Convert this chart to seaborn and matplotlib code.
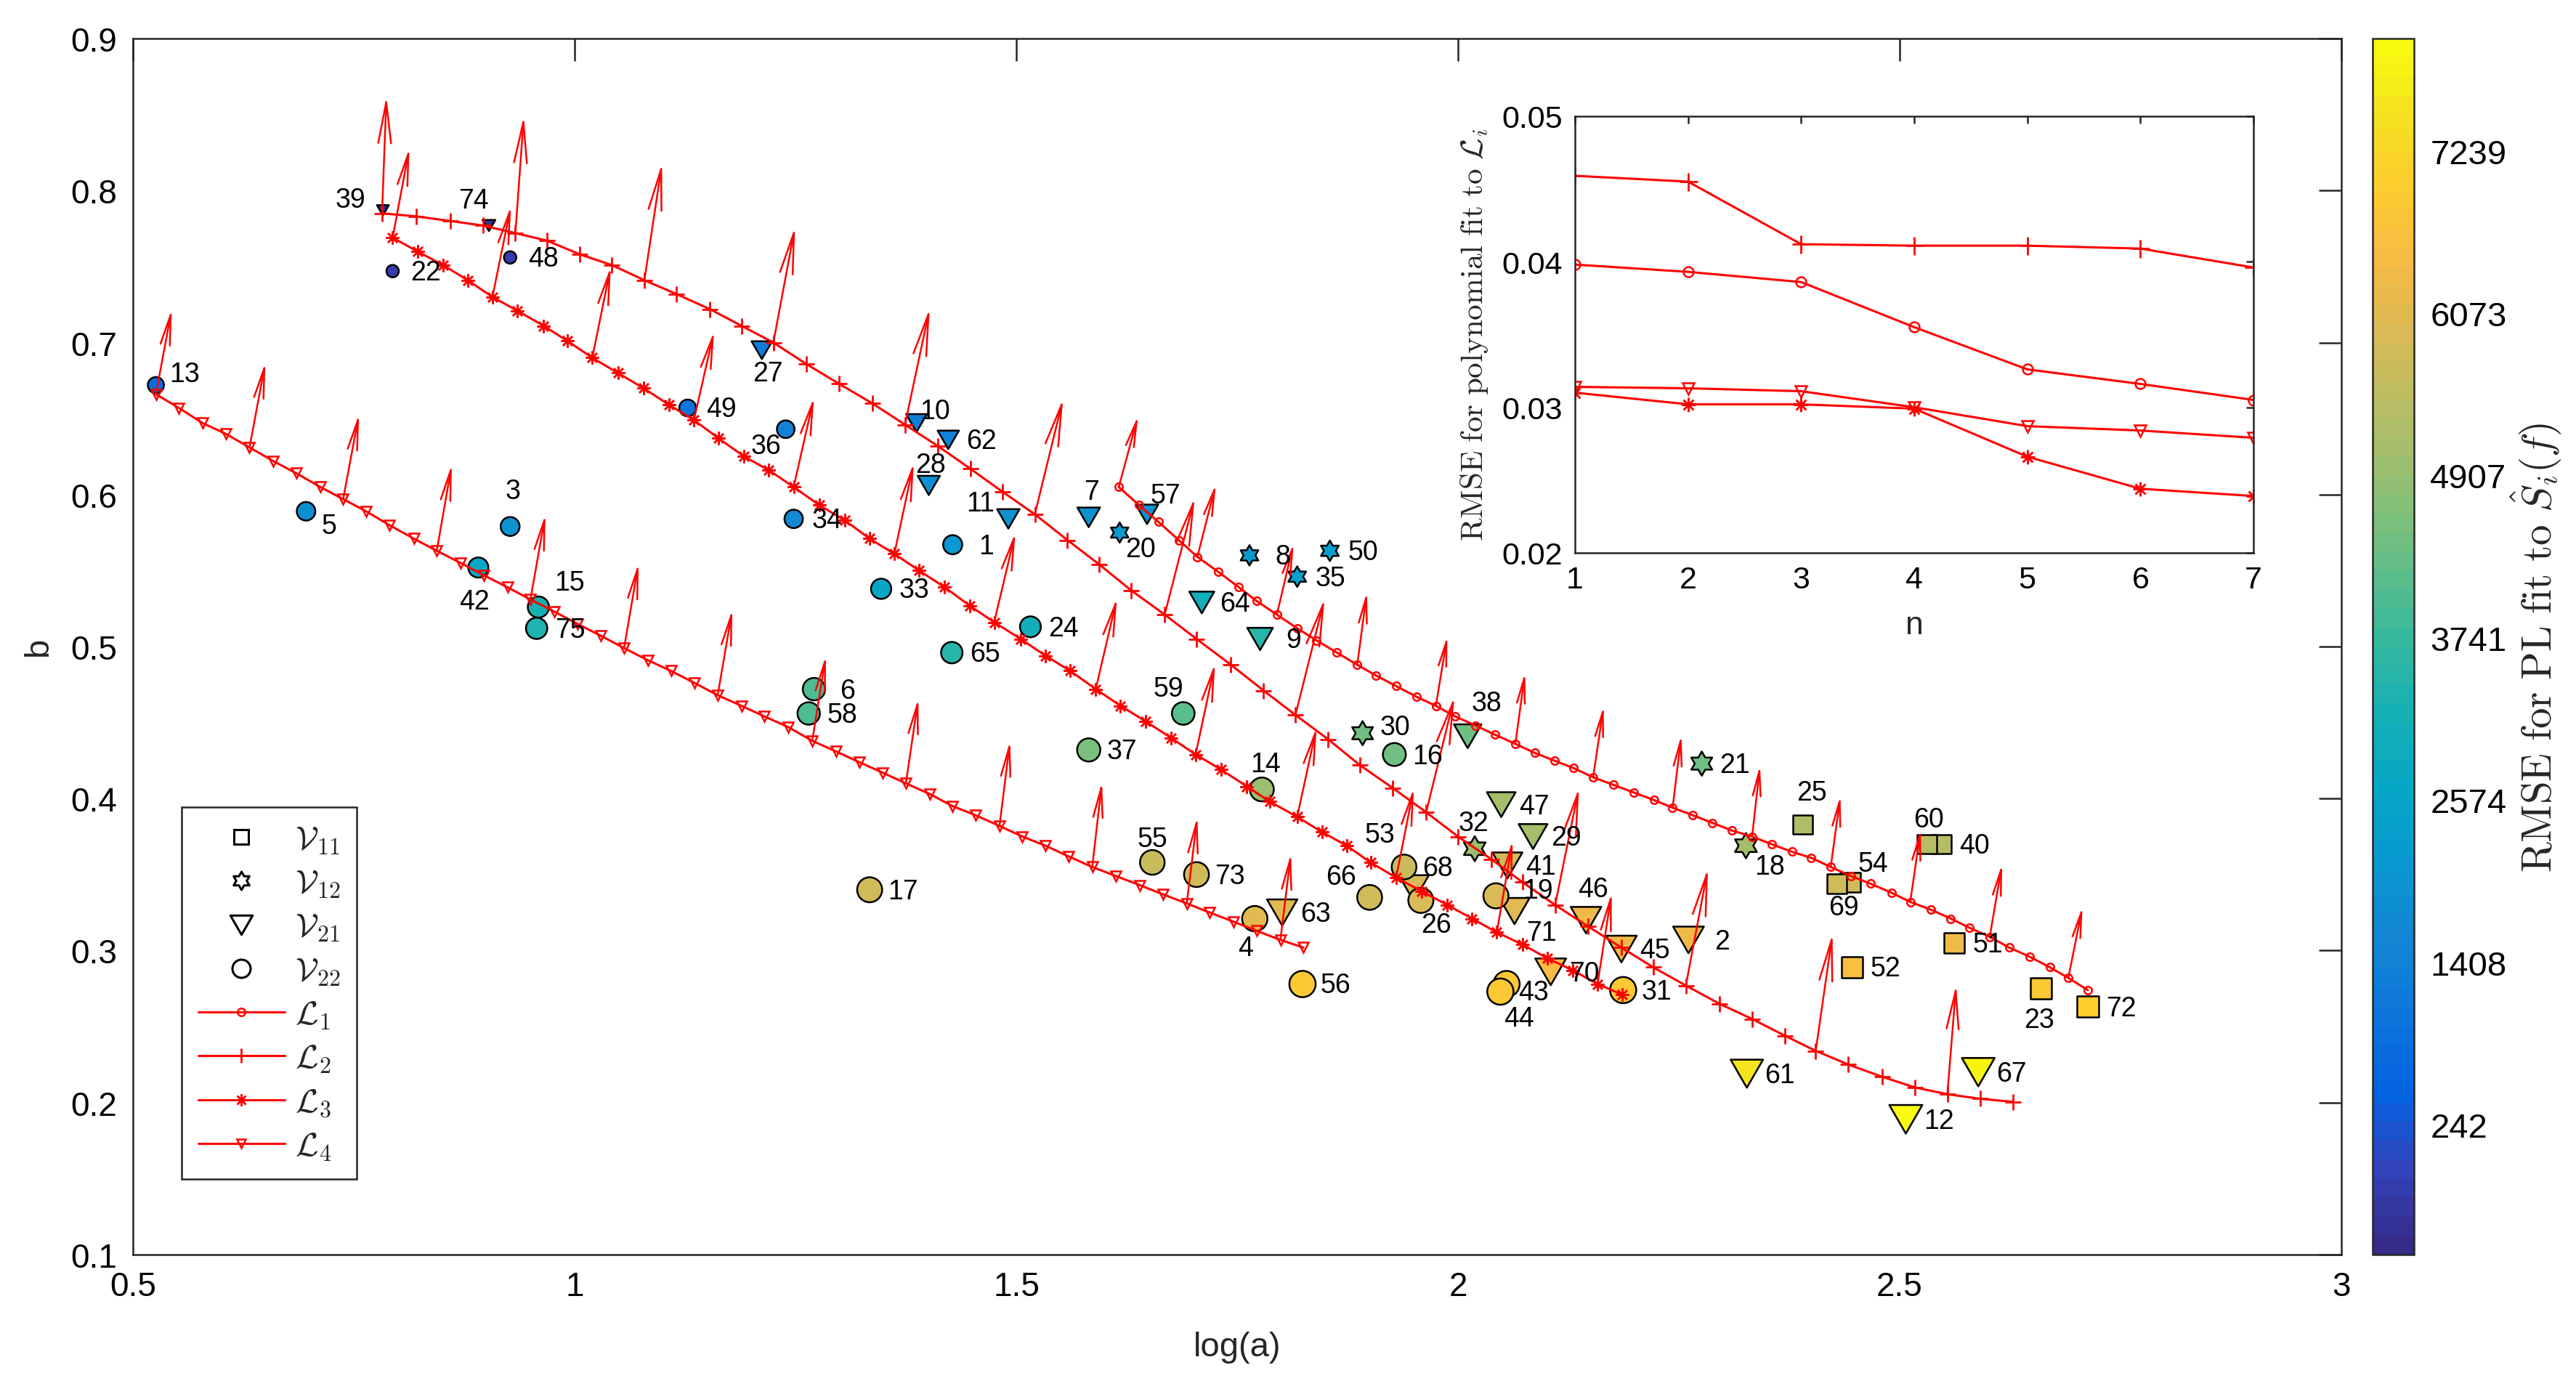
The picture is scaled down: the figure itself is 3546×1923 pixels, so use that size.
import numpy as np
import pandas as pd
import matplotlib
matplotlib.use("Agg")
import matplotlib.pyplot as plt
from matplotlib.colors import LinearSegmentedColormap, Normalize
from matplotlib.cm import ScalarMappable
from matplotlib.lines import Line2D
from matplotlib.patches import FancyArrowPatch
from matplotlib.path import Path
import seaborn as sns

# ---------------- data ----------------
point_id = list(range(1, 76))
point_group = ['22', '21', '22', '22', '22', '22', '21', '12', '21', '21',
               '21', '21', '22', '22', '22', '22', '22', '12', '22', '12',
               '12', '22', '11', '22', '11', '22', '21', '21', '21', '12',
               '22', '12', '22', '22', '12', '22', '22', '21', '21', '11',
               '21', '22', '22', '22', '21', '21', '21', '22', '22', '12',
               '11', '11', '21', '11', '22', '22', '21', '22', '22', '11',
               '21', '21', '21', '21', '22', '22', '21', '22', '11', '21',
               '21', '11', '22', '21', '22']
point_loga = [1.428, 2.261, 0.927, 1.770, 0.696, 1.271, 1.582, 1.764, 1.776, 1.387,
              1.491, 2.507, 0.526, 1.778, 0.959, 1.928, 1.334, 2.326, 2.043, 1.617,
              2.276, 0.794, 2.660, 1.516, 2.390, 1.958, 1.212, 1.401, 2.085, 1.892,
              2.187, 2.019, 1.347, 1.248, 1.818, 1.239, 1.582, 2.011, 0.783, 2.547,
              2.056, 0.891, 2.055, 2.048, 2.185, 2.145, 2.049, 0.927, 1.128, 1.855,
              2.562, 2.446, 1.950, 2.444, 1.654, 1.824, 1.648, 1.265, 1.689, 2.531,
              2.327, 1.423, 1.801, 1.710, 1.427, 1.900, 2.589, 1.939, 2.429, 2.105,
              2.064, 2.713, 1.704, 0.903, 0.957]
point_b = [0.567, 0.307, 0.579, 0.321, 0.589, 0.472, 0.585, 0.560, 0.505, 0.647,
           0.584, 0.189, 0.672, 0.406, 0.526, 0.429, 0.340, 0.369, 0.336, 0.575,
           0.423, 0.747, 0.275, 0.513, 0.383, 0.333, 0.695, 0.606, 0.375, 0.443,
           0.274, 0.367, 0.538, 0.584, 0.546, 0.643, 0.432, 0.441, 0.787, 0.370,
           0.356, 0.552, 0.278, 0.273, 0.301, 0.320, 0.396, 0.756, 0.657, 0.563,
           0.305, 0.289, 0.341, 0.345, 0.358, 0.278, 0.587, 0.456, 0.456, 0.370,
           0.219, 0.636, 0.325, 0.529, 0.496, 0.335, 0.220, 0.355, 0.344, 0.286,
           0.326, 0.263, 0.350, 0.777, 0.512]
point_rmse = [2100, 6390, 2020, 6120, 1840, 4030, 2020, 2280, 3420, 1320,
              1930, 7960, 800, 5030, 3240, 4380, 5860, 5160, 5950, 2190,
              4460, -250, 6910, 3070, 5250, 5950, 1230, 1840, 5160, 4380,
              6820, 4990, 2720, 1760, 2370, 1410, 4550, 4380, -600, 5420,
              5860, 2630, 6820, 6870, 6390, 6300, 5080, -250, 1060, 2370,
              6300, 6650, 5990, 5860, 5600, 6910, 1930, 4030, 4200, 5420,
              7520, 1490, 6120, 3070, 3420, 5770, 7780, 5690, 5770, 6470,
              6040, 7080, 5770, -520, 3330]

# curves L1..L4
l1_x = [1.616, 1.639, 1.661, 1.684, 1.705, 1.729, 1.752, 1.772, 1.795, 1.818,
        1.840, 1.863, 1.886, 1.907, 1.930, 1.953, 1.975, 1.997, 2.020, 2.042,
        2.065, 2.087, 2.109, 2.131, 2.153, 2.176, 2.199, 2.222, 2.243, 2.266,
        2.288, 2.310, 2.333, 2.355, 2.378, 2.400, 2.422, 2.445, 2.467, 2.491,
        2.512, 2.535, 2.558, 2.579, 2.602, 2.624, 2.647, 2.670, 2.691, 2.713]
l1_y = [0.605, 0.593, 0.582, 0.570, 0.559, 0.549, 0.539, 0.530, 0.521, 0.512,
        0.504, 0.496, 0.488, 0.481, 0.474, 0.467, 0.461, 0.454, 0.448, 0.442,
        0.436, 0.430, 0.425, 0.420, 0.414, 0.409, 0.404, 0.399, 0.394, 0.389,
        0.384, 0.379, 0.375, 0.370, 0.365, 0.361, 0.355, 0.349, 0.344, 0.338,
        0.332, 0.327, 0.321, 0.315, 0.309, 0.302, 0.296, 0.289, 0.282, 0.274]
l2_x = [0.782, 0.821, 0.859, 0.896, 0.933, 0.969, 1.006, 1.042, 1.079, 1.115,
        1.153, 1.189, 1.225, 1.262, 1.299, 1.337, 1.374, 1.411, 1.448, 1.484,
        1.521, 1.558, 1.594, 1.630, 1.668, 1.704, 1.743, 1.780, 1.816, 1.853,
        1.889, 1.926, 1.964, 2.000, 2.038, 2.073, 2.110, 2.147, 2.185, 2.221,
        2.258, 2.296, 2.333, 2.370, 2.405, 2.442, 2.480, 2.517, 2.554, 2.591,
        2.628]
l2_y = [0.785, 0.783, 0.780, 0.777, 0.772, 0.767, 0.758, 0.751, 0.741, 0.732,
        0.722, 0.711, 0.700, 0.686, 0.673, 0.660, 0.646, 0.632, 0.617, 0.602,
        0.587, 0.570, 0.554, 0.537, 0.521, 0.505, 0.488, 0.471, 0.455, 0.439,
        0.422, 0.407, 0.391, 0.375, 0.360, 0.345, 0.330, 0.316, 0.302, 0.289,
        0.277, 0.265, 0.255, 0.244, 0.234, 0.225, 0.217, 0.210, 0.2055, 0.2025,
        0.2005]
l3_x = [0.794, 0.822, 0.851, 0.879, 0.907, 0.935, 0.965, 0.992, 1.020, 1.049,
        1.078, 1.107, 1.135, 1.163, 1.192, 1.220, 1.248, 1.277, 1.306, 1.334,
        1.362, 1.390, 1.419, 1.447, 1.475, 1.505, 1.533, 1.561, 1.590, 1.618,
        1.646, 1.675, 1.703, 1.732, 1.761, 1.787, 1.818, 1.846, 1.874, 1.901,
        1.930, 1.959, 1.988, 2.016, 2.044, 2.073, 2.101, 2.130, 2.158, 2.186]
l3_y = [0.769, 0.760, 0.751, 0.741, 0.730, 0.721, 0.711, 0.701, 0.690, 0.680,
        0.670, 0.659, 0.649, 0.637, 0.625, 0.616, 0.605, 0.593, 0.583, 0.571,
        0.561, 0.550, 0.539, 0.527, 0.516, 0.505, 0.494, 0.484, 0.472, 0.461,
        0.451, 0.440, 0.429, 0.419, 0.408, 0.398, 0.388, 0.378, 0.369, 0.358,
        0.348, 0.339, 0.330, 0.321, 0.312, 0.304, 0.295, 0.287, 0.278, 0.271]
l4_x = [0.526, 0.552, 0.579, 0.605, 0.632, 0.659, 0.685, 0.712, 0.738, 0.764,
        0.790, 0.818, 0.844, 0.871, 0.897, 0.924, 0.950, 0.977, 1.003, 1.030,
        1.056, 1.083, 1.109, 1.136, 1.162, 1.189, 1.215, 1.242, 1.269, 1.296,
        1.322, 1.349, 1.375, 1.402, 1.428, 1.454, 1.481, 1.507, 1.533, 1.559,
        1.586, 1.613, 1.640, 1.666, 1.693, 1.719, 1.746, 1.772, 1.799, 1.825]
l4_y = [0.666, 0.657, 0.647, 0.640, 0.631, 0.622, 0.614, 0.605, 0.597, 0.589,
        0.580, 0.571, 0.563, 0.555, 0.547, 0.539, 0.531, 0.523, 0.515, 0.507,
        0.499, 0.491, 0.484, 0.476, 0.468, 0.461, 0.454, 0.447, 0.438, 0.431,
        0.424, 0.417, 0.410, 0.403, 0.395, 0.389, 0.382, 0.375, 0.369, 0.362,
        0.355, 0.349, 0.343, 0.337, 0.331, 0.325, 0.319, 0.313, 0.307, 0.302]

# arrows, drawn from every 4th marker of each curve
l1_u = [0.022, 0.021, 0.019, 0.011, 0.013, 0.011, 0.012, 0.010, 0.009, 0.011, 0.012, 0.014, 0.016]
l1_v = [0.047, 0.048, 0.047, 0.048, 0.046, 0.047, 0.047, 0.048, 0.047, 0.047, 0.048, 0.048, 0.047]
l2_u = [0.005, 0.0095, 0.020, 0.0245, 0.028, 0.032, 0.034, 0.033, 0.032, 0.027, 0.025, 0.019, 0.010]
l2_v = [0.077, 0.077, 0.077, 0.076, 0.0765, 0.076, 0.077, 0.0765, 0.076, 0.077, 0.077, 0.077, 0.072]
l3_u = [0.019, 0.021, 0.021, 0.023, 0.023, 0.022, 0.024, 0.024, 0.022, 0.022, 0.020, 0.018, 0.016]
l3_v = [0.059, 0.060, 0.060, 0.0585, 0.059, 0.060, 0.059, 0.060, 0.060, 0.059, 0.059, 0.0606, 0.060]
l4_u = [0.018, 0.018, 0.018, 0.017, 0.017, 0.0165, 0.0166, 0.0155, 0.0142, 0.012, 0.011, 0.012, 0.012]
l4_v = [0.056, 0.056, 0.056, 0.057, 0.056, 0.056, 0.0565, 0.056, 0.056, 0.056, 0.056, 0.057, 0.057]

# inset: RMSE of polynomial fit vs order n
n_vals = [1, 2, 3, 4, 5, 6, 7]
fit_l1 = [0.0398, 0.0393, 0.0386, 0.0355, 0.0326, 0.0316, 0.0305]
fit_l2 = [0.0459, 0.0455, 0.0412, 0.0411, 0.0411, 0.0409, 0.0396]
fit_l3 = [0.0310, 0.0302, 0.0302, 0.0299, 0.0266, 0.0244, 0.0239]
fit_l4 = [0.0314, 0.0313, 0.0311, 0.0300, 0.0287, 0.0284, 0.0279]

x_ticks = [0.5, 1, 1.5, 2, 2.5, 3]
x_ticklabels = ['0.5', '1', '1.5', '2', '2.5', '3']
y_ticks = [0.1, 0.2, 0.3, 0.4, 0.5, 0.6, 0.7, 0.8, 0.9]
y_ticklabels = ['0.1', '0.2', '0.3', '0.4', '0.5', '0.6', '0.7', '0.8', '0.9']
cb_ticks = [242, 1408, 2574, 3741, 4907, 6073, 7239]
cb_min, cb_max = -690, 8045
inset_yticks = [0.02, 0.03, 0.04, 0.05]
inset_yticklabels = ['0.02', '0.03', '0.04', '0.05']

# ---------------- style ----------------
DPI = 200
sns.set_style('white')
plt.rcParams['font.family'] = ['Liberation Sans', 'DejaVu Sans']
plt.rcParams['mathtext.fontset'] = 'cm'
AX_COLOR = '#262626'

# parula (sampled)
parula_rows = [
    (0.2081, 0.1663, 0.5292), (0.1959, 0.2645, 0.7279), (0.0117, 0.3875, 0.8820),
    (0.0498, 0.4586, 0.8641), (0.0793, 0.5200, 0.8312), (0.0343, 0.5966, 0.8199),
    (0.0228, 0.6535, 0.7768), (0.0843, 0.6928, 0.7062), (0.2178, 0.7250, 0.6193),
    (0.3953, 0.7459, 0.5244), (0.5709, 0.7485, 0.4494), (0.7184, 0.7411, 0.3905),
    (0.8507, 0.7299, 0.3360), (0.9739, 0.7314, 0.2666), (0.9880, 0.8066, 0.1794),
    (0.9589, 0.8949, 0.1132), (0.9763, 0.9831, 0.0538)]
parula_pos = [0, 4, 8, 12, 16, 20, 24, 28, 32, 36, 40, 44, 48, 52, 56, 60, 63]
parula = LinearSegmentedColormap.from_list(
    'parula', [(p / 63, c) for p, c in zip(parula_pos, parula_rows)], N=64)
norm = Normalize(cb_min, cb_max)


def marker_path(verts):
    return Path(verts + [verts[0]], closed=True)


tri_down = marker_path([(-1, 0.866), (1, 0.866), (0, -0.866)])
hexagram = marker_path([((1.0 if k % 2 == 0 else 0.577) * np.cos(np.pi / 2 + k * np.pi / 6),
                         (1.0 if k % 2 == 0 else 0.577) * np.sin(np.pi / 2 + k * np.pi / 6))
                        for k in range(12)])
group_marker = {'11': 's', '12': hexagram, '21': tri_down, '22': 'o'}
group_scale = {'11': 0.8, '12': 1.05, '21': 1.2, '22': 1.0}

df = pd.DataFrame({'id': point_id, 'group': point_group, 'loga': point_loga,
                   'b': point_b, 'rmse': point_rmse})
t = ((df['rmse'] - cb_min) / (cb_max - cb_min)).clip(0, 1)
diam_pt = (11 + 27 * np.sqrt(t)) * 72 / DPI
df['area'] = (diam_pt * df['group'].map(group_scale)) ** 2
amin, amax = df['area'].min(), df['area'].max()

# ---------------- figure ----------------
fig = plt.figure(figsize=(3546 / DPI, 1924 / DPI), dpi=DPI)
ax = fig.add_axes([0.0516, 0.1019, 0.8573, 0.870])
ax.set_xlim(0.5, 3)
ax.set_ylim(0.1, 0.9)

for g, mk in group_marker.items():
    sub = df[df['group'] == g]
    sns.scatterplot(data=sub, x='loga', y='b', hue='rmse', hue_norm=norm, palette=parula,
                    size='area', sizes=(amin, amax), size_norm=(amin, amax),
                    marker=mk, edgecolor='black', linewidth=0.9, legend=False,
                    ax=ax, zorder=2)

line_specs = [
    (l1_x, l1_y, l1_u, l1_v, dict(marker='o', ms=3.8, mfc='none', mew=0.9)),
    (l2_x, l2_y, l2_u, l2_v, dict(marker='+', ms=8, mew=1.0)),
    (l3_x, l3_y, l3_u, l3_v, dict(marker=(8, 2, 0), ms=6.5, mew=0.9)),
    (l4_x, l4_y, l4_u, l4_v, dict(marker='v', ms=5, mfc='none', mew=0.9)),
]
for xs, ys, us, vs, mk in line_specs:
    sns.lineplot(x=xs, y=ys, sort=False, estimator=None, ax=ax, color='red',
                 lw=1.1, mec='red', zorder=3, **mk)

# quiver-like arrows with open heads
for xs, ys, us, vs, _ in line_specs:
    for k, (u, v) in enumerate(zip(us, vs)):
        x0, y0 = xs[4 * k], ys[4 * k]
        p0 = ax.transData.transform((x0, y0))
        p1 = ax.transData.transform((x0 + u, y0 + v))
        length_pt = np.hypot(*(p1 - p0)) * 72 / DPI
        style = '->,head_length=%.2f,head_width=%.2f' % (0.35 * length_pt, 0.055 * length_pt)
        ax.add_patch(FancyArrowPatch((x0, y0), (x0 + u, y0 + v), arrowstyle=style,
                                     mutation_scale=1, shrinkA=0, shrinkB=0,
                                     color='red', lw=0.9, zorder=3))

# point labels
default_off = (16.5, -0.7)
label_off = {3: (1.3, 17.4), 4: (-4.6, -14.4), 5: (11.3, -7.2), 7: (1.4, 12.6),
             10: (9.3, 5.9), 11: (-13.8, 7.6), 13: (14.3, 5.3), 14: (1.9, 12.6),
             15: (15.5, 12), 18: (11.9, -10.4), 19: (20.7, 2.4), 20: (10.5, -8.2),
             23: (-0.8, -15.6), 25: (4.5, 15.6), 26: (7.6, -12), 27: (3.1, -11.7),
             28: (1, 10.3), 30: (16.1, 3), 32: (-0.7, 12.6), 36: (-9.9, -8.2),
             38: (9.3, 16.2), 39: (-16.1, 5.3), 42: (-2, -16.8), 43: (13.3, -4.2),
             44: (9.2, -13.4), 46: (3.5, 15.2), 53: (-16.8, 26.4), 54: (11.5, 9),
             55: (0, 11.6), 57: (9.1, 9.4), 59: (-7.2, 12.4), 60: (0.8, 12.4),
             66: (-14, 10.1), 69: (3.5, -11.7), 71: (13.3, -10.8), 74: (-7.6, 12.4)}
for pid, x, y in zip(point_id, point_loga, point_b):
    ax.annotate(str(pid), (x, y), xytext=label_off.get(pid, default_off),
                textcoords='offset points', ha='center', va='center',
                fontsize=13.5, color='black', zorder=5)

ax.set_xticks(x_ticks)
ax.set_xticklabels(x_ticklabels)
ax.set_yticks(y_ticks)
ax.set_yticklabels(y_ticklabels)
ax.tick_params(direction='in', length=11, width=0.9, top=True, right=True,
               labelsize=16.5, colors=AX_COLOR, labelcolor='black', pad=8)
for s in ax.spines.values():
    s.set_color(AX_COLOR)
    s.set_linewidth(0.9)
ax.set_xlabel('log(a)', fontsize=17, labelpad=14)
ax.set_ylabel('b', fontsize=17, labelpad=8)

# legend
leg_handles = [
    Line2D([], [], ls='none', marker='s', ms=7, mfc='none', mec='black', mew=1.1),
    Line2D([], [], ls='none', marker=hexagram, ms=9, mfc='none', mec='black', mew=1.1),
    Line2D([], [], ls='none', marker=tri_down, ms=11, mfc='none', mec='black', mew=1.1),
    Line2D([], [], ls='none', marker='o', ms=9, mfc='none', mec='black', mew=1.1),
    Line2D([], [], color='red', lw=1.1, marker='o', ms=3.8, mfc='none', mec='red', mew=0.9),
    Line2D([], [], color='red', lw=1.1, marker='+', ms=7, mew=1.0),
    Line2D([], [], color='red', lw=1.1, marker=(8, 2, 0), ms=6, mew=0.9),
    Line2D([], [], color='red', lw=1.1, marker='v', ms=4.5, mfc='none', mec='red', mew=0.9),
]
leg_labels = [r'$\mathcal{V}_{11}$', r'$\mathcal{V}_{12}$', r'$\mathcal{V}_{21}$',
              r'$\mathcal{V}_{22}$', r'$\mathcal{L}_{1}$', r'$\mathcal{L}_{2}$',
              r'$\mathcal{L}_{3}$', r'$\mathcal{L}_{4}$']
leg = ax.legend(leg_handles, leg_labels, loc='lower left', bbox_to_anchor=(0.022, 0.062),
                borderaxespad=0, frameon=True, fancybox=False, framealpha=1,
                edgecolor='#262626', fontsize=16.5, handlelength=2.6,
                handletextpad=0.3, labelspacing=0.355, borderpad=0.5)
leg.get_frame().set_linewidth(0.9)
leg.set_zorder(6)

# inset
ins = fig.add_axes([0.6114, 0.604, 0.2634, 0.3124])
inset_specs = [(fit_l1, dict(marker='o', ms=5, mfc='none', mew=0.9)),
               (fit_l2, dict(marker='+', ms=9, mew=1.0)),
               (fit_l3, dict(marker=(8, 2, 0), ms=7, mew=0.9)),
               (fit_l4, dict(marker='v', ms=6, mfc='none', mew=0.9))]
for ys, mk in inset_specs:
    sns.lineplot(x=n_vals, y=ys, sort=False, estimator=None, ax=ins, color='red',
                 lw=1.1, mec='red', **mk)
ins.set_xlim(1, 7)
ins.set_ylim(0.02, 0.05)
ins.set_xticks(n_vals)
ins.set_yticks(inset_yticks)
ins.set_yticklabels(inset_yticklabels)
ins.tick_params(direction='in', length=3.5, width=0.9, top=True, right=True,
                labelsize=15.5, colors=AX_COLOR, labelcolor='black', pad=6)
for s in ins.spines.values():
    s.set_color(AX_COLOR)
    s.set_linewidth(0.9)
ins.set_xlabel('n', fontsize=16, labelpad=8)
ins.set_ylabel(r'$\mathrm{RMSE\ for\ polynomial\ fit\ to\ }\mathcal{L}_i$',
               fontsize=15.5, labelpad=6)

# colorbar
cax = fig.add_axes([0.9210, 0.1019, 0.0161, 0.870])
cb = fig.colorbar(ScalarMappable(norm=norm, cmap=parula), cax=cax, ticks=cb_ticks)
cb.set_ticklabels([str(v) for v in cb_ticks])
cb.ax.tick_params(direction='in', length=6, width=0.9, labelsize=17,
                  colors=AX_COLOR, labelcolor='black', pad=8)
cb.outline.set_linewidth(0.9)
cb.outline.set_edgecolor(AX_COLOR)
cb.set_label(r'$\mathrm{RMSE\ for\ PL\ fit\ to\ }\hat{S}_i(f)$', fontsize=20.5, labelpad=1)

fig.savefig('out.png', dpi=DPI, facecolor='white')
